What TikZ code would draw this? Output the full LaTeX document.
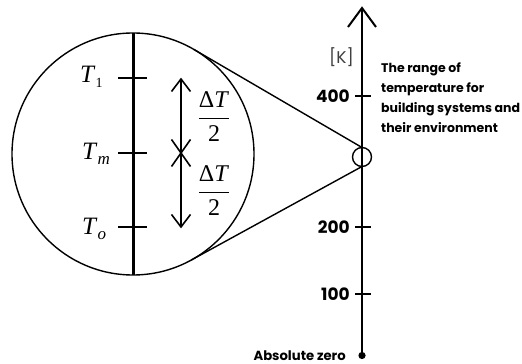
\documentclass[tikz,border=0pt]{standalone}
\usepackage{fontspec}
\setmainfont{Liberation Serif}
\newfontfamily\gsans{Poppins}
\usetikzlibrary{calc}
\tikzset{
  x=1pt,y=1pt,
  thickax/.style={line width=3pt},
  tickmark/.style={line width=2.6pt},
  thin/.style={line width=1.4pt},
  vhead/.style={line width=1.6pt},
  tlabel/.style={anchor=base west, inner sep=0pt, font=\fontsize{25}{25}\selectfont},
  numlabel/.style={anchor=east, inner sep=0pt, font=\gsans\bfseries\fontsize{17}{17}\selectfont},
  fraclabel/.style={inner sep=0pt, font=\fontsize{24}{24}\selectfont},
}
\begin{document}
\begin{tikzpicture}
\useasboundingbox (0,0) rectangle (522,364);
% big circle
\node[circle, draw, line width=1.4pt, minimum size=242pt, inner sep=0pt] (big) at (133,210) {};
\coordinate (btop) at (133,331);
\coordinate (bbot) at (133,89);
\draw[thickax] (btop) -- (bbot);
% ticks
\coordinate (t1l) at (118,286); \coordinate (t1r) at (147,286);
\coordinate (tml) at (118,211); \coordinate (tmr) at (147,211);
\coordinate (tol) at (118,137); \coordinate (tor) at (147,137);
\draw[tickmark] (t1l) -- (t1r);
\draw[tickmark] (tml) -- (tmr);
\draw[tickmark] (tol) -- (tor);
\node[tlabel] (lT1) at (80,281) {\textit{T}\raisebox{-5pt}{\fontsize{14}{14}\selectfont 1}};
\node[tlabel] (lTm) at (82,204) {\textit{T}\raisebox{-5pt}{\fontsize{17}{17}\selectfont\textit{m}}};
\node[tlabel] (lTo) at (82,129) {\textit{T}\raisebox{-5pt}{\fontsize{17}{17}\selectfont\textit{o}}};
% double arrow
\coordinate (aup) at (181,285);
\coordinate (amid) at (181,211);
\coordinate (adn) at (181,137);
\draw[thin] (aup) -- (adn);
\draw[vhead] ($(aup)+(-9.5,-12.5)$) -- (aup) -- ($(aup)+(9.5,-12.5)$);
\draw[vhead] ($(adn)+(-9.5,12.5)$) -- (adn) -- ($(adn)+(9.5,12.5)$);
\draw[vhead] ($(amid)+(-9.5,13.5)$) -- ($(amid)+(9.5,-13.5)$);
\draw[vhead] ($(amid)+(9.5,13.5)$) -- ($(amid)+(-9.5,-13.5)$);
\node[fraclabel] (f1) at (214,247) {$\displaystyle\frac{\hbox{Δ\textit{T}}}{\hbox{2}}$};
\node[fraclabel] (f2) at (214,173) {$\displaystyle\frac{\hbox{Δ\textit{T}}}{\hbox{2}}$};
% axis
\coordinate (zero) at (362,8.5);
\coordinate (tip) at (362,356);
\draw[line width=2.4pt] (zero) -- (tip);
\draw[line width=2pt] ($(tip)+(-14,-19)$) -- (tip) -- ($(tip)+(14,-19)$);
\fill (zero) circle (3.6pt);
\coordinate (k4l) at (355,268); \coordinate (k4r) at (371,268);
\coordinate (k2l) at (355,137); \coordinate (k2r) at (371,137);
\coordinate (k1l) at (355,70); \coordinate (k1r) at (371,70);
\draw[tickmark] (k4l) -- (k4r);
\draw[tickmark] (k2l) -- (k2r);
\draw[tickmark] (k1l) -- (k1r);
\node[numlabel] (n400) at (350,268) {400};
\node[numlabel] (n200) at (350,137) {200};
\node[numlabel] (n100) at (350,70) {100};
\node[anchor=east, inner sep=0pt, text=black!75, font=\gsans\fontsize{17}{17}\selectfont] (unit) at (354,307) {[K]};
\node[anchor=base east, inner sep=0pt, font=\gsans\bfseries\fontsize{13.2}{14}\selectfont] (abs) at (346,3.5) {Absolute zero};
% small circle and tangents
\node[circle, draw, line width=1.4pt, minimum size=19pt, inner sep=0pt] (sm) at (362,207) {};
\coordinate (stop) at (362,216.5);
\coordinate (sbot) at (362,197.5);
\coordinate (tA) at (194.05,314.47);
\coordinate (tB) at (191.15,103.9);
\draw[thin] (tA) -- (stop);
\draw[thin] (tB) -- (sbot);
\node[anchor=base west, inner sep=0pt, align=left, font=\gsans\bfseries\fontsize{12.5}{20}\selectfont] (desc) at (381,231) {The range of\\temperature for\\building systems and\\their environment};
\end{tikzpicture}
\end{document}
